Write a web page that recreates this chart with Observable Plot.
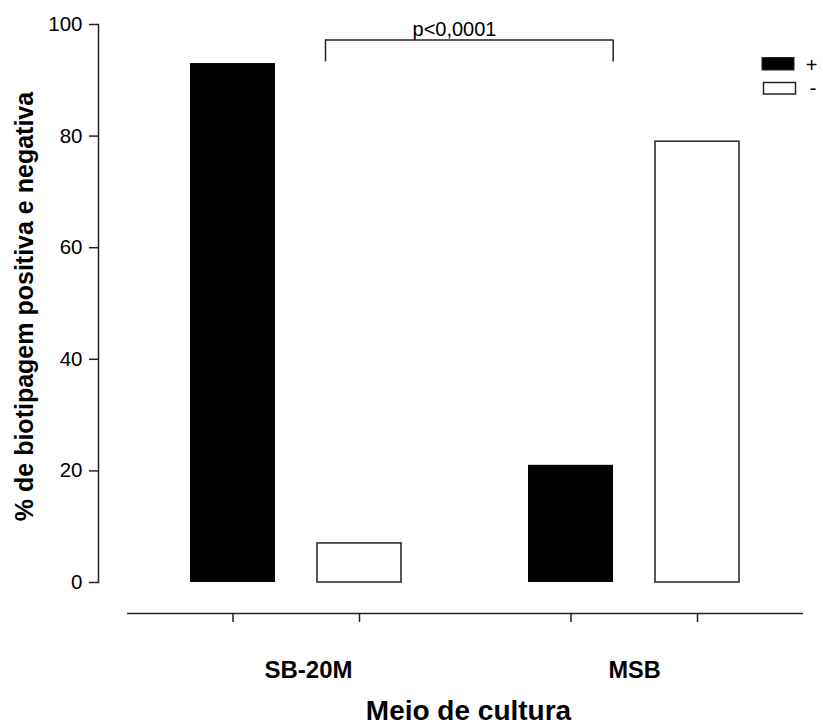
<!DOCTYPE html>
<html><head><meta charset="utf-8">
<script src="https://cdn.jsdelivr.net/npm/d3@7"></script>
<script src="https://cdn.jsdelivr.net/npm/@observablehq/plot@0.6"></script>
<style>body{margin:0;background:#fff} #chart{width:823px;height:727px}</style>
</head><body><div id="chart"></div>
<script>
const groups = ["SB-20M", "MSB"];
const signs = ["+", "-"];
const positive = [93, 21];
const negative = [7, 79];
const yTicks = [0, 20, 40, 60, 80, 100];
const pLabel = "p<0,0001";
const bracketTop = 97.2;
const bracketBottom = 93.3;
const xTitle = "Meio de cultura";
const yTitle = "% de biotipagem positiva e negativa";

const rows = groups.flatMap((g, i) => [
  {group: g, sign: signs[0], value: positive[i]},
  {group: g, sign: signs[1], value: negative[i]}
]);
const FONT = "'Liberation Sans', Arial, Helvetica, sans-serif";
const AX = "#222";

const svg = Plot.plot({
  width: 823, height: 727,
  marginTop: 24, marginBottom: 145, marginLeft: 98, marginRight: 20,
  style: {fontFamily: FONT, background: "#fff", color: "#000"},
  x: {type: "band", domain: groups, range: [127, 803], padding: 0, axis: null},
  y: {domain: [0, 100], axis: null},
  marks: [
    Plot.barY(rows.filter(d => d.sign === "+"), {x: "group", y: "value", fill: "#000", insetLeft: 63, insetRight: 190}),
    Plot.barY(rows.filter(d => d.sign === "-"), {x: "group", y: "value", fill: "#fff", stroke: AX, strokeWidth: 1.5, insetLeft: 190, insetRight: 64}),
    // y axis: line, ticks, labels
    Plot.frame({anchor: "left", stroke: AX, strokeWidth: 1.5}),
    Plot.tickY(yTicks, {y: d => d, frameAnchor: "left", stroke: AX, strokeWidth: 1.5, insetLeft: -9, insetRight: 705}),
    Plot.text(yTicks, {y: d => d, text: d => String(d), frameAnchor: "left", textAnchor: "end", lineAnchor: "middle", dx: -16, fontSize: 20.5}),
    // x axis line and ticks
    Plot.ruleY([0], {dy: 31, insetLeft: 29, stroke: AX, strokeWidth: 1.5}),
    Plot.ruleX(groups, {x: d => d, y1: 0, y2: 0, insetBottom: -9, dy: 31, dx: -63.5, stroke: AX, strokeWidth: 1.5}),
    Plot.ruleX(groups, {x: d => d, y1: 0, y2: 0, insetBottom: -9, dy: 31, dx: 63, stroke: AX, strokeWidth: 1.5}),
    // group labels
    Plot.text([groups[0]], {x: d => d, text: d => d, frameAnchor: "bottom", lineAnchor: "middle", textAnchor: "middle", dy: 88, dx: 12, fontSize: 24, fontWeight: "bold"}),
    Plot.text([groups[1]], {x: d => d, text: d => d, frameAnchor: "bottom", lineAnchor: "middle", textAnchor: "middle", dy: 88, fontSize: 23.5, fontWeight: "bold"}),
    // axis titles
    Plot.text([xTitle], {text: d => d, frameAnchor: "bottom", lineAnchor: "middle", textAnchor: "middle", dx: 17.5, dy: 129, fontSize: 28, fontWeight: "bold"}),
    Plot.text([yTitle], {text: d => d, frameAnchor: "left", lineAnchor: "middle", textAnchor: "middle", rotate: -90, dx: -74, dy: 3, fontSize: 25, fontWeight: "bold"}),
    // significance bracket
    Plot.ruleY([bracketTop], {insetLeft: 227, insetRight: 190.3, stroke: AX, strokeWidth: 1.5}),
    Plot.ruleX([groups[0]], {x: d => d, y1: bracketBottom, y2: bracketTop, dx: 29, stroke: AX, strokeWidth: 1.5}),
    Plot.ruleX([groups[1]], {x: d => d, y1: bracketBottom, y2: bracketTop, dx: -21.3, stroke: AX, strokeWidth: 1.5}),
    Plot.text([pLabel], {text: d => d, frameAnchor: "top", lineAnchor: "middle", textAnchor: "middle", dx: 3.5, dy: 4.6, fontSize: 20})
  ]
});

// legend (inside the plot area, top-right)
const lg = d3.select(svg).append("g").style("font-family", FONT).style("font-size", "20px");
lg.append("rect").attr("x", 762).attr("y", 57.5).attr("width", 32).attr("height", 12.5).attr("fill", "#000").attr("stroke", AX).attr("stroke-width", 1);
lg.append("rect").attr("x", 763.5).attr("y", 82.5).attr("width", 32).attr("height", 11.5).attr("fill", "#fff").attr("stroke", AX).attr("stroke-width", 1.5);
lg.append("text").attr("x", 811.5).attr("y", 71.5).attr("fill", "#000").text(signs[0]);
lg.append("text").attr("x", 813).attr("y", 95).attr("fill", "#000").text(signs[1]);

document.getElementById("chart").appendChild(svg);
</script>
</body></html>
